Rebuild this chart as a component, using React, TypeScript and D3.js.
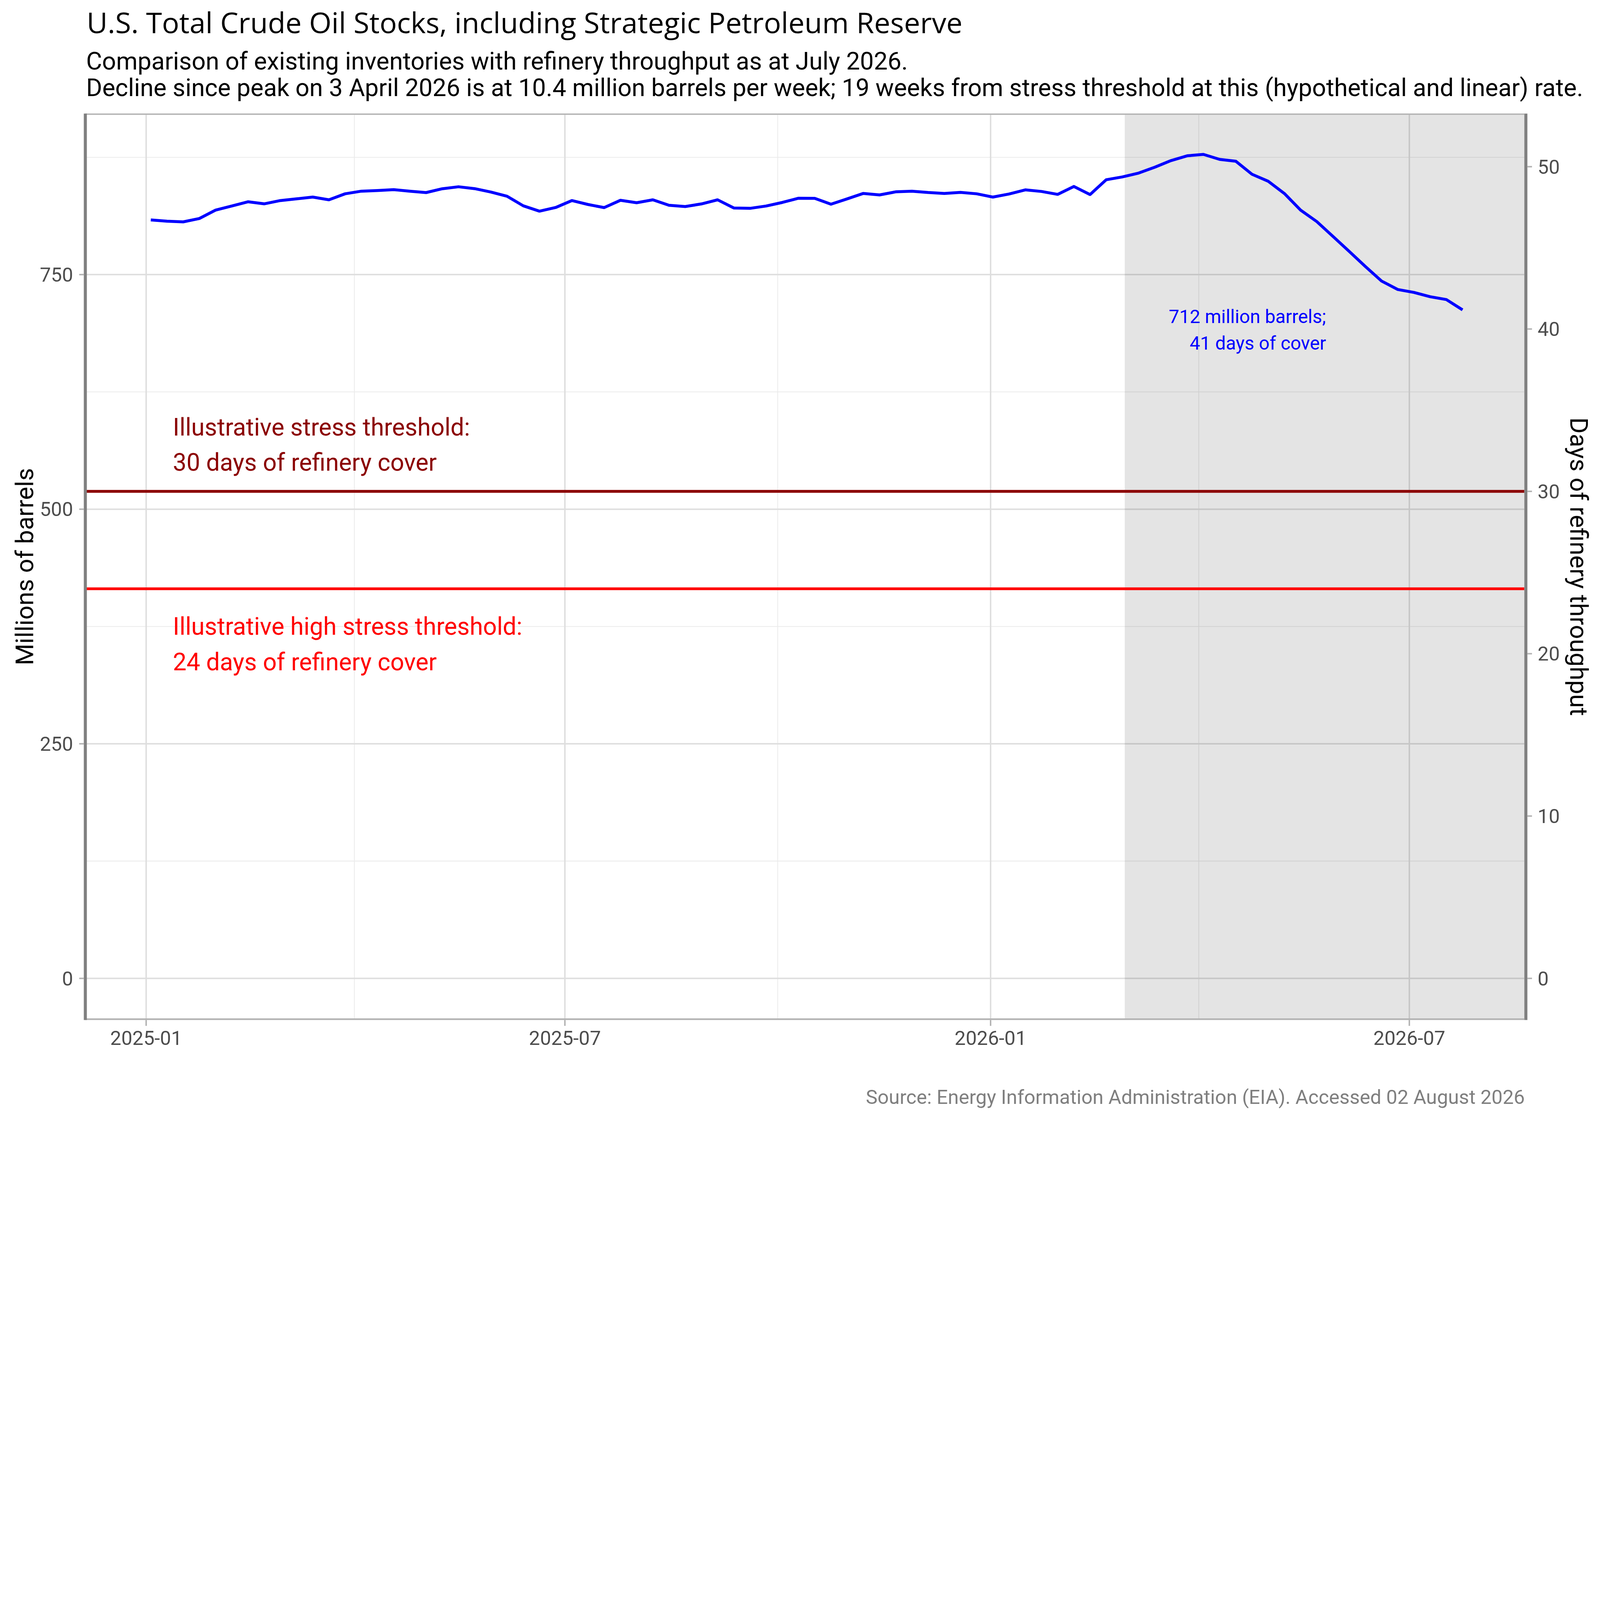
import React, { useEffect, useRef } from "react";
import * as d3 from "d3";

/* ---------- data (weekly, millions of barrels) ---------- */
const weeks = [
  "2025-01-03", "2025-01-10", "2025-01-17", "2025-01-24", "2025-01-31",
  "2025-02-07", "2025-02-14", "2025-02-21", "2025-02-28",
  "2025-03-07", "2025-03-14", "2025-03-21", "2025-03-28",
  "2025-04-04", "2025-04-11", "2025-04-18", "2025-04-25",
  "2025-05-02", "2025-05-09", "2025-05-16", "2025-05-23", "2025-05-30",
  "2025-06-06", "2025-06-13", "2025-06-20", "2025-06-27",
  "2025-07-04", "2025-07-11", "2025-07-18", "2025-07-25",
  "2025-08-01", "2025-08-08", "2025-08-15", "2025-08-22", "2025-08-29",
  "2025-09-05", "2025-09-12", "2025-09-19", "2025-09-26",
  "2025-10-03", "2025-10-10", "2025-10-17", "2025-10-24", "2025-10-31",
  "2025-11-07", "2025-11-14", "2025-11-21", "2025-11-28",
  "2025-12-05", "2025-12-12", "2025-12-19", "2025-12-26",
  "2026-01-02", "2026-01-09", "2026-01-16", "2026-01-23", "2026-01-30",
  "2026-02-06", "2026-02-13", "2026-02-20", "2026-02-27",
  "2026-03-06", "2026-03-13", "2026-03-20", "2026-03-27",
  "2026-04-03", "2026-04-10", "2026-04-17", "2026-04-24",
  "2026-05-01", "2026-05-08", "2026-05-15", "2026-05-22", "2026-05-29",
  "2026-06-05", "2026-06-12", "2026-06-19", "2026-06-26",
  "2026-07-03", "2026-07-10", "2026-07-17", "2026-07-24",
];

const stocks = [
  808.3, 806.9, 806.2, 809.8, 818.7,
  823.1, 827.6, 825.4, 828.9,
  830.7, 832.6, 829.7, 836.1,
  838.9, 839.6, 840.5, 838.9,
  837.4, 841.5, 843.6, 841.6, 838.0,
  833.5, 823.3, 817.6, 821.5,
  828.9, 824.7, 821.4, 829.2,
  826.6, 829.7, 823.9, 822.5, 825.3,
  829.7, 821.0, 820.6, 823.1,
  826.9, 831.4, 831.3, 825.0, 830.7,
  836.5, 834.9, 838.2, 838.9,
  837.5, 836.5, 837.6, 836.1,
  832.6, 835.9, 840.3, 838.6, 835.5,
  843.9, 835.3, 851.1, 854.1,
  858.2, 864.5, 871.5, 876.6,
  878.1, 872.8, 870.8, 856.9,
  849.5, 836.4, 818.7, 806.5, 790.7,
  774.8, 758.6, 743.1, 734.1,
  731.0, 726.4, 723.4, 712.4,
];

const throughputPerDay = 17.3; // million barrels of refinery throughput per day
const thresholdDays = [30, 24];
const thresholdColours = ["#8b0000", "#ff0000"];
const thresholdLabels = [
  ["Illustrative stress threshold:", "30 days of refinery cover"],
  ["Illustrative high stress threshold:", "24 days of refinery cover"],
];
const latestLabel = ["712 million barrels;", "41 days of cover"];

const barrelTicks = [0, 250, 500, 750];
const barrelMinor = [125, 375, 625, 875];
const dayTicks = [0, 10, 20, 30, 40, 50];
const monthTicks = ["2025-01-01", "2025-07-01", "2026-01-01", "2026-07-01"];
const monthMinor = ["2025-04-01", "2025-10-01", "2026-04-01"];
const shadeFrom = "2026-02-28";

const title = "U.S. Total Crude Oil Stocks, including Strategic Petroleum Reserve";
const subtitle = [
  "Comparison of existing inventories with refinery throughput as at July 2026.",
  "Decline since peak on 3 April 2026 is at 10.4 million barrels per week; 19 weeks from stress threshold at this (hypothetical and linear) rate.",
];
const caption = "Source: Energy Information Administration (EIA). Accessed 02 August 2026";

/* ---------- layout ---------- */
const W = 6000;
const H = 4200;
const panel = { left: 320, right: 5716, top: 428, bottom: 3822 };
const FONT = "Roboto, 'Open Sans', sans-serif";
const TICK_SIZE = 74;

const parse = d3.utcParse("%Y-%m-%d");

const App: React.FC = () => {
  const svgRef = useRef<SVGSVGElement | null>(null);

  useEffect(() => {
    if (!svgRef.current) return;
    const svg = d3.select(svgRef.current);
    svg.selectAll("*").remove();

    const series = weeks.map((w, i) => ({ date: parse(w)!, value: stocks[i] }));

    const x = d3
      .scaleUtc()
      .domain([new Date(Date.UTC(2024, 11, 5, 11, 30)), new Date(Date.UTC(2026, 7, 19, 16, 20))])
      .range([panel.left - 2, panel.right]);
    const y = d3.scaleLinear().domain([-43.5, 921]).range([panel.bottom, panel.top]);
    const yDays = d3
      .scaleLinear()
      .domain(y.domain().map((v) => v / throughputPerDay))
      .range(y.range());

    /* background */
    svg.append("rect").attr("width", W).attr("height", H).attr("fill", "#fff");

    /* grid */
    const grid = svg.append("g");
    grid
      .selectAll(".hmin")
      .data(barrelMinor)
      .enter()
      .append("line")
      .attr("x1", panel.left)
      .attr("x2", panel.right)
      .attr("y1", (d) => y(d))
      .attr("y2", (d) => y(d))
      .attr("stroke", "#ebebeb")
      .attr("stroke-width", 3);
    grid
      .selectAll(".vmin")
      .data(monthMinor.map((m) => parse(m)!))
      .enter()
      .append("line")
      .attr("x1", (d) => x(d))
      .attr("x2", (d) => x(d))
      .attr("y1", panel.top)
      .attr("y2", panel.bottom)
      .attr("stroke", "#ebebeb")
      .attr("stroke-width", 3);
    grid
      .selectAll(".hmaj")
      .data(barrelTicks)
      .enter()
      .append("line")
      .attr("x1", panel.left)
      .attr("x2", panel.right)
      .attr("y1", (d) => y(d))
      .attr("y2", (d) => y(d))
      .attr("stroke", "#dedede")
      .attr("stroke-width", 5.5);
    grid
      .selectAll(".vmaj")
      .data(monthTicks.map((m) => parse(m)!))
      .enter()
      .append("line")
      .attr("x1", (d) => x(d))
      .attr("x2", (d) => x(d))
      .attr("y1", panel.top)
      .attr("y2", panel.bottom)
      .attr("stroke", "#dedede")
      .attr("stroke-width", 5.5);

    /* shaded recent period */
    svg
      .append("rect")
      .attr("x", x(parse(shadeFrom)!))
      .attr("y", panel.top)
      .attr("width", panel.right - x(parse(shadeFrom)!))
      .attr("height", panel.bottom - panel.top)
      .attr("fill", "#000")
      .attr("fill-opacity", 0.107);

    /* threshold lines */
    svg
      .selectAll(".threshold")
      .data(thresholdDays)
      .enter()
      .append("line")
      .attr("x1", panel.left)
      .attr("x2", panel.right)
      .attr("y1", (d) => y(d * throughputPerDay))
      .attr("y2", (d) => y(d * throughputPerDay))
      .attr("stroke", (_, i) => thresholdColours[i])
      .attr("stroke-width", 10.5);

    /* stocks line */
    const line = d3
      .line<{ date: Date; value: number }>()
      .x((d) => x(d.date))
      .y((d) => y(d.value));
    svg
      .append("path")
      .datum(series)
      .attr("d", line)
      .attr("fill", "none")
      .attr("stroke", "#0000ff")
      .attr("stroke-width", 11)
      .attr("stroke-linejoin", "round");

    /* threshold labels (offsets in barrels from each line) */
    const labelDate = parse("2025-01-13")!;
    const labelOffsets = [
      [59.6, 22.1],
      [-49.2, -86.7],
    ];
    thresholdDays.forEach((d, i) => {
      thresholdLabels[i].forEach((txt, j) => {
        svg
          .append("text")
          .attr("x", x(labelDate) - 4)
          .attr("y", y(d * throughputPerDay + labelOffsets[i][j]))
          .attr("font-family", FONT)
          .attr("font-size", 91)
          .attr("fill", thresholdColours[i])
          .text(txt);
      });
    });

    /* latest value label */
    const latestDate = parse("2026-05-26")!;
    const latestValues = [698.2, 670.1];
    latestLabel.forEach((txt, j) => {
      svg
        .append("text")
        .attr("x", x(latestDate))
        .attr("y", y(latestValues[j]))
        .attr("text-anchor", "end")
        .attr("font-family", FONT)
        .attr("font-size", 70)
        .attr("fill", "#0000ff")
        .text(txt);
    });

    /* axis lines */
    const axes = svg.append("g");
    axes
      .append("line")
      .attr("x1", panel.left)
      .attr("x2", panel.right)
      .attr("y1", panel.top)
      .attr("y2", panel.top)
      .attr("stroke", "#b3b3b3")
      .attr("stroke-width", 5);
    axes
      .append("line")
      .attr("x1", panel.left)
      .attr("x2", panel.right)
      .attr("y1", panel.bottom)
      .attr("y2", panel.bottom)
      .attr("stroke", "#b3b3b3")
      .attr("stroke-width", 6);
    [panel.left, panel.right + 6].forEach((px) => {
      axes
        .append("line")
        .attr("x1", px)
        .attr("x2", px)
        .attr("y1", panel.top - 2)
        .attr("y2", panel.bottom + 3)
        .attr("stroke", "#808080")
        .attr("stroke-width", 11.5);
    });

    /* left ticks + labels */
    axes
      .selectAll(".lt")
      .data(barrelTicks)
      .enter()
      .append("line")
      .attr("x1", panel.left - 23)
      .attr("x2", panel.left - 5)
      .attr("y1", (d) => y(d))
      .attr("y2", (d) => y(d))
      .attr("stroke", "#b3b3b3")
      .attr("stroke-width", 5.5);
    axes
      .selectAll(".ll")
      .data(barrelTicks)
      .enter()
      .append("text")
      .attr("x", 274)
      .attr("y", (d) => y(d) + TICK_SIZE * 0.355)
      .attr("text-anchor", "end")
      .attr("font-family", FONT)
      .attr("font-size", TICK_SIZE)
      .attr("fill", "#4d4d4d")
      .text((d) => String(d));

    /* right ticks + labels */
    axes
      .selectAll(".rt")
      .data(dayTicks)
      .enter()
      .append("line")
      .attr("x1", panel.right + 12)
      .attr("x2", panel.right + 29)
      .attr("y1", (d) => yDays(d))
      .attr("y2", (d) => yDays(d))
      .attr("stroke", "#b3b3b3")
      .attr("stroke-width", 5.5);
    axes
      .selectAll(".rl")
      .data(dayTicks)
      .enter()
      .append("text")
      .attr("x", 5766)
      .attr("y", (d) => yDays(d) + TICK_SIZE * 0.355)
      .attr("font-family", FONT)
      .attr("font-size", TICK_SIZE)
      .attr("fill", "#4d4d4d")
      .text((d) => String(d));

    /* bottom ticks + labels */
    const fmt = d3.utcFormat("%Y-%m");
    const months = monthTicks.map((m) => parse(m)!);
    axes
      .selectAll(".bt")
      .data(months)
      .enter()
      .append("line")
      .attr("x1", (d) => x(d))
      .attr("x2", (d) => x(d))
      .attr("y1", panel.bottom + 3)
      .attr("y2", panel.bottom + 25)
      .attr("stroke", "#b3b3b3")
      .attr("stroke-width", 5.5);
    axes
      .selectAll(".bl")
      .data(months)
      .enter()
      .append("text")
      .attr("x", (d) => x(d))
      .attr("y", 3918)
      .attr("text-anchor", "middle")
      .attr("font-family", FONT)
      .attr("font-size", TICK_SIZE)
      .attr("fill", "#4d4d4d")
      .text((d) => fmt(d));

    /* axis titles */
    const midY = (panel.top + panel.bottom) / 2;
    svg
      .append("text")
      .attr("transform", `translate(124,${midY}) rotate(-90)`)
      .attr("text-anchor", "middle")
      .attr("font-family", FONT)
      .attr("font-size", 93)
      .attr("fill", "#000")
      .text("Millions of barrels");
    svg
      .append("text")
      .attr("transform", `translate(5888,${midY}) rotate(90)`)
      .attr("text-anchor", "middle")
      .attr("font-family", FONT)
      .attr("font-size", 93)
      .attr("fill", "#000")
      .text("Days of refinery throughput");

    /* title, subtitle, caption */
    svg
      .append("text")
      .attr("x", 325)
      .attr("y", 124)
      .attr("font-family", "'Open Sans', 'Noto Sans', sans-serif")
      .attr("font-size", 108)
      .attr("fill", "#000")
      .text(title);
    subtitle.forEach((s, i) => {
      svg
        .append("text")
        .attr("x", 323)
        .attr("y", 261 + i * 99)
        .attr("font-family", FONT)
        .attr("font-size", 92)
        .attr("fill", "#000")
        .text(s);
    });
    svg
      .append("text")
      .attr("x", 5718)
      .attr("y", 4139)
      .attr("text-anchor", "end")
      .attr("font-family", FONT)
      .attr("font-size", TICK_SIZE)
      .attr("fill", "#7f7f7f")
      .text(caption);
  }, []);

  return (
    <svg
      ref={svgRef}
      viewBox={`0 0 ${W} ${H}`}
      preserveAspectRatio="xMinYMin meet"
      style={{ position: "absolute", left: 0, top: 0, width: "100vw", height: "100vh", display: "block" }}
    />
  );
};

export default App;
